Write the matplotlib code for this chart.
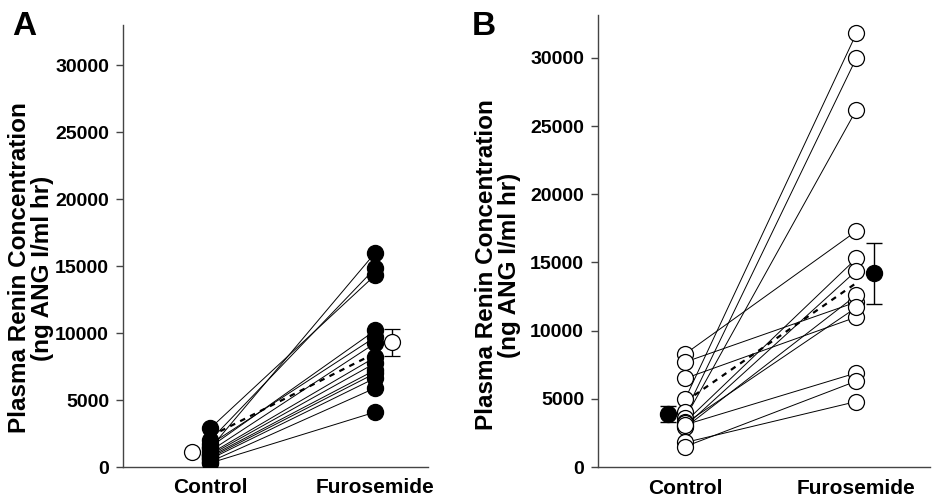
import numpy as np
import matplotlib.pyplot as plt

plt.rcParams['font.family'] = ['Liberation Sans', 'DejaVu Sans']
plt.rcParams['font.weight'] = 'bold'

#===== data =====#
groups = ["Control", "Furosemide"]

# panel A: individual animals (filled), mean +/- SE (open)
a_control = [2900, 2000, 1700, 1500, 1400, 1200, 1000, 900, 800, 700, 600, 400, 300]
a_furo = [14330, 14850, 9700, 10200, 16000, 9250, 8200, 7760, 7240, 7000, 6640, 5900, 4100]
a_mean = [1100, 9300]
a_err = [0, 1000]
a_dash = [2300, 8500]

# panel B: individual animals (open), mean +/- SE (filled)
b_control = [8300, 7700, 6500, 5000, 4000, 3600, 3300, 3000, 2900, 3200, 3100, 1800, 1500]
b_furo = [17300, 12100, 11000, 31800, 30000, 26200, 15300, 14400, 12600, 11700, 6900, 4800, 6300]
b_mean = [3870, 14200]
b_err = [570, 2250]
b_dash = [4800, 13500]

ylab = "Plasma Renin Concentration\n(ng ANG I/ml hr)"

W, H = 932, 498
fig = plt.figure(figsize=(W/100, H/100), dpi=100)

def px_axes(left, right, top, bottom):
    return fig.add_axes([left/W, 1-bottom/H, (right-left)/W, (bottom-top)/H])

def style(ax, xlim, ylim, xpad):
    ax.set_xlim(*xlim)
    ax.set_ylim(*ylim)
    for s in ["top", "right"]:
        ax.spines[s].set_visible(False)
    for s in ["left", "bottom"]:
        ax.spines[s].set_color("#444444")
        ax.spines[s].set_linewidth(1.0)
    ax.set_yticks([0, 5000, 10000, 15000, 20000, 25000, 30000])
    ax.tick_params(axis="y", length=5, width=1, color="#444444", pad=5, labelsize=14)
    ax.set_xticks([1, 2])
    ax.set_xticklabels(groups, fontsize=15, fontweight="bold")
    ax.tick_params(axis="x", length=0, pad=xpad)

ms = 11.5

# ---- panel A ----
axA = px_axes(123, 428, 25, 467)
style(axA, (0.47, 2.32), (0, 33000), 8)
for c, f in zip(a_control, a_furo):
    axA.plot([1, 2], [c, f], color="black", lw=0.7, zorder=2)
axA.plot([1, 2], a_dash, color="black", lw=1.6, ls=(0, (2.5, 2.5)), zorder=2)
axA.plot([1]*len(a_control), a_control, "o", ms=ms, color="black", zorder=3)
axA.plot([2]*len(a_furo), a_furo, "o", ms=ms, color="black", zorder=3)
axA.errorbar([0.89, 2.1], a_mean, yerr=a_err, fmt="o", ms=ms, mfc="white", mec="black",
             mew=0.9, ecolor="black", elinewidth=1, capsize=6, capthick=1, zorder=4)

# ---- panel B ----
axB = px_axes(598, 930, 15, 467)
style(axB, (0.49, 2.43), (0, 33150), 8.5)
for c, f in zip(b_control, b_furo):
    axB.plot([1, 2], [c, f], color="black", lw=0.7, zorder=2)
axB.plot([1, 2], b_dash, color="black", lw=1.6, ls=(0, (2.5, 2.5)), zorder=2)
axB.plot([1]*len(b_control), b_control, "o", ms=ms, mfc="white", mec="black", mew=0.9, zorder=3)
axB.plot([2]*len(b_furo), b_furo, "o", ms=ms, mfc="white", mec="black", mew=0.9, zorder=3)
axB.errorbar([0.9, 2.1], b_mean, yerr=b_err, fmt="o", ms=ms, color="black",
             ecolor="black", elinewidth=1, capsize=6, capthick=1, zorder=4)

# y labels and panel letters
fig.text(31/W, 1-268/H, ylab, rotation=90, ha="center", va="center",
         fontsize=17.5, fontweight="bold", linespacing=1.0)
fig.text(498/W, 1-265/H, ylab, rotation=90, ha="center", va="center",
         fontsize=17.5, fontweight="bold", linespacing=1.0)
fig.text(12/W, 1-11/H, "A", ha="left", va="top", fontsize=24, fontweight="bold")
fig.text(472/W, 1-11/H, "B", ha="left", va="top", fontsize=24, fontweight="bold")

fig.savefig("out.png", dpi=100)
